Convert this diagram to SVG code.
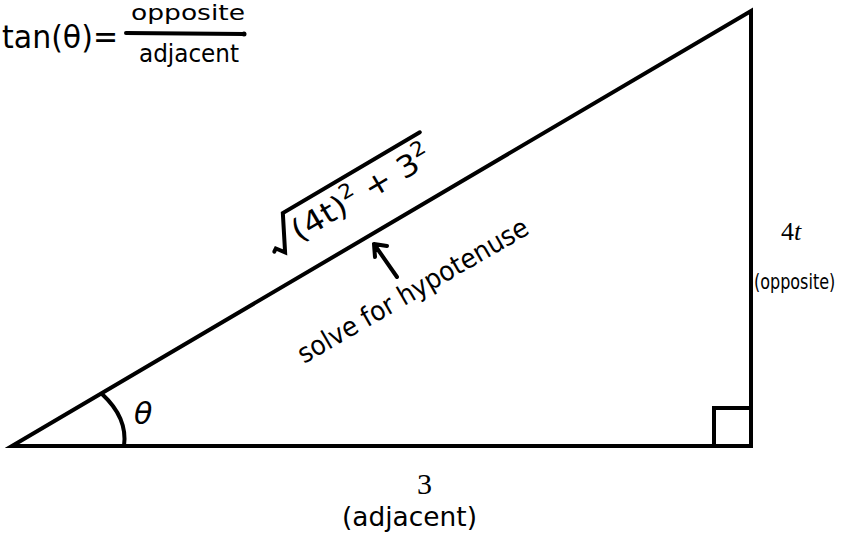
<svg xmlns="http://www.w3.org/2000/svg" width="847" height="544" viewBox="0 0 847 544">
<style>
.ln{stroke:#000;stroke-width:4;fill:none;stroke-linecap:round;stroke-linejoin:miter}
.hw{font-family:"DejaVu Sans","Noto Sans",sans-serif;fill:#000}
.mt{font-family:"DejaVu Sans","Liberation Sans",sans-serif;fill:#000}
.sr{font-family:"Liberation Serif","DejaVu Serif",serif;fill:#000}
</style>
<rect width="847" height="544" fill="#fff"/>
<g id="triangle">
<path class="ln" d="M12,446 L751,11 L751,446 Z"/>
</g>
<g id="right-angle">
<path class="ln" d="M714,446 L714,408 L751,408"/>
</g>
<g id="angle-arc">
<path class="ln" d="M102,394 Q128,418 124,446" stroke-width="3.5"/>
<text class="hw" x="134" y="424" font-size="30" font-style="italic">θ</text>
</g>
<g id="formula">
<text class="hw" x="2" y="48" font-size="32" textLength="116" lengthAdjust="spacingAndGlyphs">tan(θ)=</text>
<text class="hw" x="131" y="20" font-size="22" textLength="114" lengthAdjust="spacingAndGlyphs">opposite</text>
<path class="ln" d="M126,33 L244,34" stroke-width="3"/>
<circle cx="244" cy="34" r="2.5"/>
<text class="hw" x="139" y="62" font-size="24" textLength="100" lengthAdjust="spacingAndGlyphs">adjacent</text>
</g>
<g id="hypotenuse-label" transform="translate(297,243) rotate(-30.5)">
<path class="ln" d="M-24,-4 L-21,-6 L-15,2 L3,-33 L162,-33" stroke-width="3"/>
<text class="mt" x="2" y="0" font-size="30" textLength="157" lengthAdjust="spacingAndGlyphs">(4t)<tspan font-size="20" dy="-13">2</tspan><tspan dy="13"> + 3</tspan><tspan font-size="20" dy="-13">2</tspan></text>
</g>
<g id="connectors">
<path class="ln" d="M397,277 L374,244 M374,244 L387,246 M374,244 L375,257" stroke-width="3.5"/>
</g>
<g id="note">
<text class="hw" transform="translate(304,364) rotate(-30)" font-size="27" textLength="262" lengthAdjust="spacingAndGlyphs">solve for hypotenuse</text>
</g>
<g id="opposite-label">
<text class="sr" x="781" y="240" font-size="26">4<tspan font-style="italic">t</tspan></text>
<text class="hw" transform="translate(754,289) scale(1,1.3)" font-size="16">(opposite)</text>
</g>
<g id="adjacent-label">
<text class="sr" x="417" y="494" font-size="30">3</text>
<text class="hw" x="342" y="526" font-size="27" textLength="135" lengthAdjust="spacingAndGlyphs">(adjacent)</text>
</g>
</svg>
